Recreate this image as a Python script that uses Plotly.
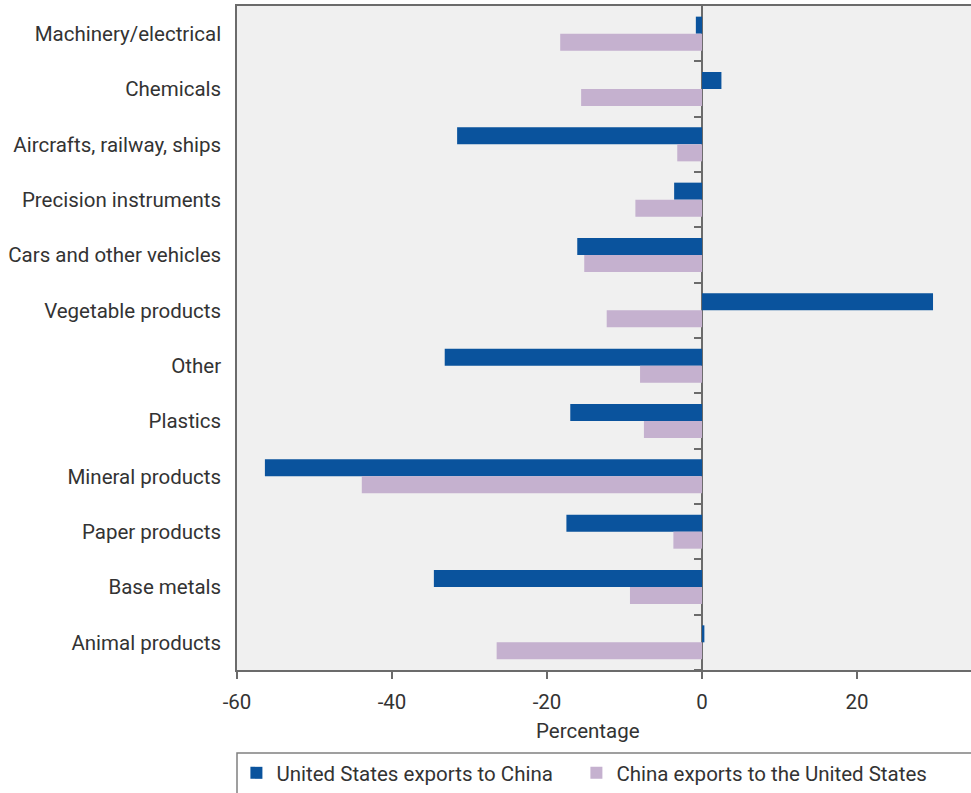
import plotly.graph_objects as go

categories = ["Machinery/electrical", "Chemicals", "Aircrafts, railway, ships",
              "Precision instruments", "Cars and other vehicles", "Vegetable products",
              "Other", "Plastics", "Mineral products", "Paper products",
              "Base metals", "Animal products"]
us_exports_to_china = [-0.8, 2.5, -31.6, -3.6, -16.1, 29.8, -33.2, -17.0, -56.4, -17.5, -34.6, 0.3]
china_exports_to_us = [-18.3, -15.6, -3.2, -8.6, -15.2, -12.3, -8.0, -7.5, -43.9, -3.7, -9.3, -26.5]
x_ticks = [-60, -40, -20, 0, 20]
x_tick_labels = ["-60", "-40", "-20", "0", "20"]
x_range = [-60, 34.7]

FONT = "Roboto"
FS = 20.5
TXT = "#333333"
AX = "#6b6b6b"

fig = go.Figure()
fig.add_trace(go.Bar(y=categories, x=us_exports_to_china, orientation="h",
                     name="United States exports to China", legend="legend",
                     marker=dict(color="#0a539d", line=dict(width=0))))
fig.add_trace(go.Bar(y=categories, x=china_exports_to_us, orientation="h",
                     name="China exports to the United States", legend="legend2",
                     marker=dict(color="#c5b1cf", line=dict(width=0))))

n = len(categories)
zero_pos = (0 - x_range[0]) / (x_range[1] - x_range[0])

legend_common = dict(orientation="h", xanchor="left", y=-0.155, yanchor="middle",
                     bgcolor="rgba(0,0,0,0)", itemclick=False, itemdoubleclick=False,
                     font=dict(family=FONT, size=FS, color=TXT))

fig.update_layout(
    width=971, height=793,
    margin=dict(l=237, r=0, t=6, b=122),
    paper_bgcolor="white", plot_bgcolor="#f0f0f0",
    barmode="group", bargap=0.385, bargroupgap=0,
    font=dict(family=FONT, size=FS, color=TXT),
    xaxis=dict(range=x_range, tickvals=x_ticks, ticktext=x_tick_labels,
               ticks="outside", ticklen=7,
               tickcolor=AX, tickwidth=1.5, showline=True, linecolor=AX, linewidth=1.5,
               mirror=True, showgrid=False, zeroline=True, zerolinecolor=AX,
               zerolinewidth=1.5, ticklabelstandoff=6),
    yaxis=dict(type="category", range=[n - 0.5, -0.5], showline=True, linecolor=AX,
               linewidth=1.5, ticks="", showgrid=False, ticklabelstandoff=10),
    yaxis2=dict(overlaying="y", anchor="free", position=zero_pos, side="left",
                range=[n - 0.5, -0.5], tickvals=[i + 0.5 for i in range(0, n)],
                ticks="outside", ticklen=8, tickcolor=AX, tickwidth=1.5,
                showticklabels=False, showgrid=False, zeroline=False, showline=False),
    showlegend=True,
    legend=dict(x=-0.0008, **legend_common),
    legend2=dict(x=0.4624, **legend_common),
    annotations=[dict(text="Percentage", xref="paper", yref="paper", x=0.478, y=-0.092,
                      xanchor="center", yanchor="middle", showarrow=False,
                      font=dict(family=FONT, size=FS, color=TXT))],
    shapes=[dict(type="rect", xref="paper", yref="paper", x0=0, x1=1.01,
                 y0=-0.125, y1=-0.19, line=dict(color="#808080", width=1.5))],
)
fig.add_trace(go.Scatter(x=[None], y=[None], yaxis="y2", showlegend=False, hoverinfo="skip"))

fig.write_html("out.html", config={"displayModeBar": False},
               post_script="document.body.style.margin='0';document.body.style.overflow='hidden';window.dispatchEvent(new Event('resize'));")
